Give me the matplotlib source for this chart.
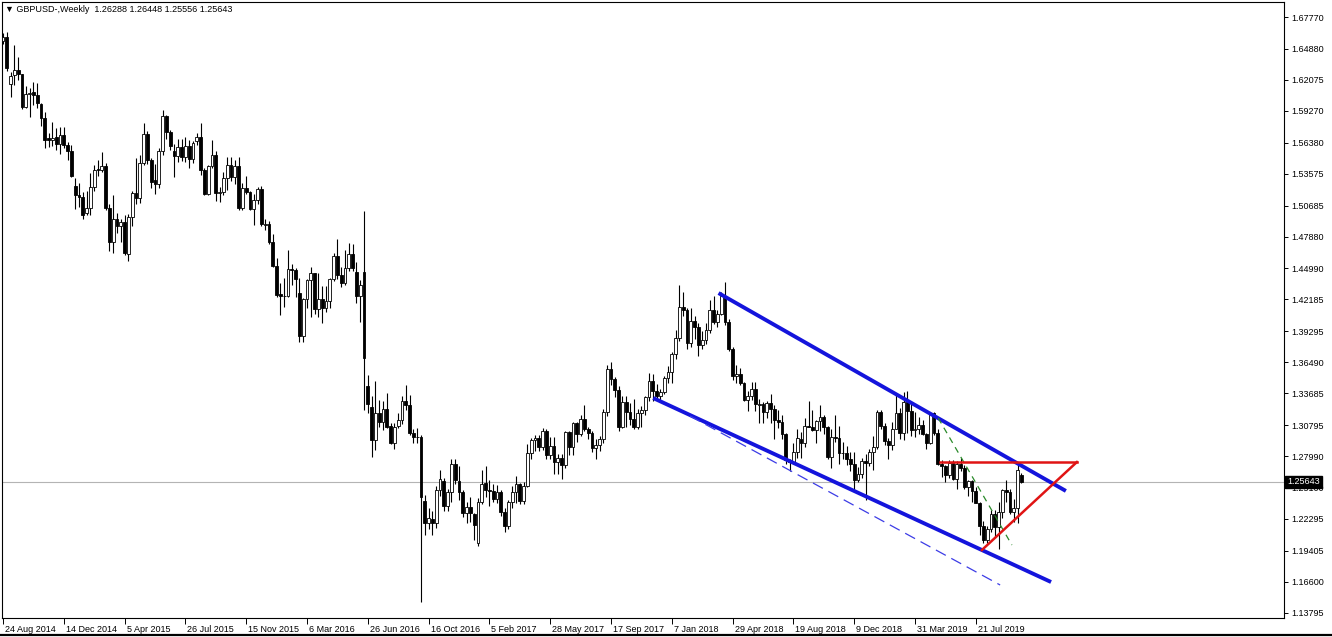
import matplotlib
matplotlib.use('Agg')
import matplotlib.pyplot as plt
import matplotlib.transforms as mtransforms
from matplotlib.lines import Line2D
import numpy as np

plt.rcParams['font.family'] = ['Liberation Sans', 'DejaVu Sans']

# GBPUSD weekly candles, first bar = week of 24 Aug 2014
opens = [
    1.6560, 1.6595, 1.6170, 1.6250, 1.6295, 1.6262, 1.5965, 1.6080, 1.6095, 1.6070,
    1.5990, 1.5860, 1.5680, 1.5660, 1.5690, 1.5630, 1.5710, 1.5615, 1.5560, 1.5250,
    1.5165, 1.5150, 1.5005, 1.5045, 1.5240, 1.5400, 1.5390, 1.5430, 1.5045, 1.4740,
    1.4950, 1.4885, 1.4920, 1.4630, 1.4965, 1.5180, 1.5135, 1.5450, 1.5720, 1.5480,
    1.5300, 1.5265, 1.5560, 1.5880, 1.5735, 1.5560, 1.5515, 1.5600, 1.5505, 1.5610,
    1.5490, 1.5650, 1.5690, 1.5390, 1.5170, 1.5430, 1.5530, 1.5180, 1.5190, 1.5315,
    1.5440, 1.5325, 1.5425, 1.5045, 1.5230, 1.5190, 1.5035, 1.5115, 1.5220, 1.4895,
    1.4905, 1.4735, 1.4525, 1.4265, 1.4250, 1.4245, 1.4495, 1.4485, 1.4275, 1.3890,
    1.4225, 1.4390, 1.4460, 1.4130, 1.4220, 1.4140, 1.4200, 1.4400, 1.4615, 1.4440,
    1.4370, 1.4500, 1.4630, 1.4470, 1.4245, 1.4470, 1.3430, 1.3245, 1.2945, 1.3190,
    1.3105, 1.3225, 1.3075, 1.2920, 1.3070, 1.3130, 1.3300, 1.3265, 1.3010, 1.2975,
    1.2970, 1.2390, 1.2190, 1.2230, 1.2190, 1.2490, 1.2570, 1.2345, 1.2475, 1.2730,
    1.2570, 1.2475, 1.2280, 1.2340, 1.2270, 1.2010, 1.2380, 1.2555, 1.2490, 1.2480,
    1.2410, 1.2470, 1.2295, 1.2165, 1.2385, 1.2475, 1.2545, 1.2395, 1.2530, 1.2825,
    1.2945, 1.2965, 1.2885, 1.3030, 1.2805, 1.2890, 1.2745, 1.2780, 1.2715, 1.3015,
    1.2885, 1.3095, 1.3000, 1.3135, 1.3040, 1.3010, 1.2875, 1.2895, 1.2950, 1.3200,
    1.3590, 1.3495, 1.3395, 1.3065, 1.3285, 1.3195, 1.3135, 1.3065, 1.3190, 1.3215,
    1.3330, 1.3475, 1.3390, 1.3340, 1.3380, 1.3510, 1.3565, 1.3720, 1.3865, 1.4150,
    1.4120, 1.3820, 1.4025, 1.3965, 1.3805, 1.3850, 1.3945, 1.4125, 1.4015, 1.4090,
    1.4245, 1.4010, 1.3770, 1.3525, 1.3545, 1.3465, 1.3310, 1.3340, 1.3410, 1.3265,
    1.3275, 1.3195, 1.3280, 1.3230, 1.3125, 1.3110, 1.2995, 1.2765, 1.2745, 1.2840,
    1.2955, 1.2920, 1.3070, 1.3065, 1.3035, 1.3120, 1.3150, 1.3060, 1.2790, 1.2970,
    1.2965, 1.2825, 1.2830, 1.2775, 1.2725, 1.2585, 1.2640, 1.2755, 1.2740, 1.2835,
    1.2880, 1.3195, 1.3075, 1.2940, 1.2900, 1.3045, 1.3190, 1.3010, 1.3290, 1.3210,
    1.3035, 1.3040, 1.3080, 1.3000, 1.2920, 1.3185, 1.3005, 1.2725, 1.2710, 1.2625,
    1.2735, 1.2590, 1.2730, 1.2695, 1.2520, 1.2575, 1.2480, 1.2375, 1.2165, 1.2035,
    1.2140, 1.2275, 1.2160, 1.2290, 1.2495, 1.2475, 1.2290, 1.2330, 1.26288,
]
highs = [
    1.6630, 1.6644, 1.6276, 1.6525, 1.6415, 1.6265, 1.6150, 1.6130, 1.6185, 1.6180,
    1.6000, 1.5915, 1.5730, 1.5825, 1.5770, 1.5785, 1.5785, 1.5645, 1.5620, 1.5316,
    1.5270, 1.5190, 1.5200, 1.5360, 1.5435, 1.5485, 1.5552, 1.5450, 1.5085, 1.5165,
    1.5000, 1.4950, 1.4985, 1.4990, 1.5200, 1.5500, 1.5525, 1.5815, 1.5740, 1.5500,
    1.5445, 1.5590, 1.5930, 1.5890, 1.5750, 1.5625, 1.5675, 1.5675, 1.5690, 1.5660,
    1.5650, 1.5730, 1.5820, 1.5410, 1.5440, 1.5660, 1.5565, 1.5240, 1.5375, 1.5510,
    1.5510, 1.5480, 1.5510, 1.5270, 1.5335, 1.5200, 1.5170, 1.5240, 1.5245, 1.4945,
    1.4925, 1.4810, 1.4590, 1.4365, 1.4415, 1.4670, 1.4540, 1.4500, 1.4410, 1.4230,
    1.4400, 1.4515, 1.4460, 1.4460, 1.4340, 1.4340, 1.4410, 1.4635, 1.4770, 1.4515,
    1.4665, 1.4730, 1.4720, 1.4560, 1.4395, 1.5015, 1.3535, 1.3340, 1.3480, 1.3310,
    1.3300, 1.3370, 1.3095, 1.3100, 1.3185, 1.3340, 1.3445, 1.3355, 1.3040, 1.3055,
    1.2990, 1.2445, 1.2330, 1.2300, 1.2530, 1.2675, 1.2600, 1.2500, 1.2775, 1.2775,
    1.2705, 1.2495, 1.2380, 1.2430, 1.2285, 1.2415, 1.2675, 1.2705, 1.2580, 1.2550,
    1.2540, 1.2490, 1.2325, 1.2400, 1.2525, 1.2615, 1.2555, 1.2560, 1.2905, 1.2965,
    1.2990, 1.2990, 1.3050, 1.3045, 1.2975, 1.2975, 1.2815, 1.2815, 1.3030, 1.3030,
    1.3110, 1.3110, 1.3175, 1.3265, 1.3060, 1.3030, 1.2955, 1.2980, 1.3225, 1.3620,
    1.3655, 1.3515, 1.3430, 1.3340, 1.3340, 1.3280, 1.3320, 1.3225, 1.3250, 1.3345,
    1.3550, 1.3540, 1.3450, 1.3410, 1.3525, 1.3615, 1.3745, 1.3945, 1.4345, 1.4285,
    1.4145, 1.4145, 1.4070, 1.4005, 1.3930, 1.4005, 1.4215, 1.4245, 1.4125, 1.4290,
    1.4377, 1.4040, 1.3790, 1.3620, 1.3600, 1.3470, 1.3385, 1.3470, 1.3470, 1.3315,
    1.3290, 1.3300, 1.3365, 1.3260, 1.3215, 1.3175, 1.3005, 1.2775, 1.2920, 1.3045,
    1.3015, 1.3145, 1.3300, 1.3215, 1.3130, 1.3260, 1.3175, 1.3075, 1.3045, 1.3175,
    1.3075, 1.2930, 1.2890, 1.2840, 1.2840, 1.2700, 1.2785, 1.2815, 1.2865, 1.2985,
    1.3215, 1.3215, 1.3095, 1.2965, 1.3110, 1.3350, 1.3235, 1.3380, 1.3385, 1.3275,
    1.3195, 1.3150, 1.3130, 1.3010, 1.3195, 1.3195, 1.3040, 1.2760, 1.2715, 1.2765,
    1.2765, 1.2750, 1.2785, 1.2715, 1.2580, 1.2580, 1.2520, 1.2385, 1.2210, 1.2165,
    1.2310, 1.2310, 1.2385, 1.2500, 1.2580, 1.2500, 1.2410, 1.2730, 1.26448,
]
lows = [
    1.6535, 1.6292, 1.6052, 1.6163, 1.6205, 1.5945, 1.5950, 1.5875, 1.5980, 1.5950,
    1.5790, 1.5590, 1.5595, 1.5610, 1.5572, 1.5540, 1.5590, 1.5480, 1.5330, 1.5035,
    1.5060, 1.4950, 1.4980, 1.4985, 1.5200, 1.5335, 1.5370, 1.5025, 1.4660, 1.4640,
    1.4820, 1.4740, 1.4620, 1.4565, 1.4880, 1.5085, 1.5090, 1.5440, 1.5445, 1.5230,
    1.5170, 1.5225, 1.5525, 1.5670, 1.5575, 1.5330, 1.5465, 1.5470, 1.5460, 1.5410,
    1.5455, 1.5620, 1.5345, 1.5160, 1.5160, 1.5410, 1.5110, 1.5105, 1.5165, 1.5210,
    1.5290, 1.5265, 1.5025, 1.5030, 1.5170, 1.5025, 1.4895, 1.5085, 1.4880, 1.4845,
    1.4720, 1.4510, 1.4240, 1.4080, 1.4150, 1.4240, 1.4350, 1.4240, 1.3835, 1.3835,
    1.4145, 1.4060, 1.4090, 1.4055, 1.4005, 1.4100, 1.4140, 1.4385, 1.4405, 1.4330,
    1.4350, 1.4480, 1.4480, 1.4185, 1.4015, 1.3220, 1.3185, 1.2795, 1.2855, 1.3060,
    1.3035, 1.3055, 1.2905, 1.2865, 1.3055, 1.3090, 1.3220, 1.2990, 1.2915, 1.2915,
    1.1480, 1.2085, 1.2135, 1.2080, 1.2150, 1.2435, 1.2300, 1.2300, 1.2385, 1.2550,
    1.2400, 1.2250, 1.2195, 1.2200, 1.2040, 1.1985, 1.2365, 1.2430, 1.2345, 1.2385,
    1.2370, 1.2260, 1.2110, 1.2140, 1.2330, 1.2375, 1.2365, 1.2365, 1.2515, 1.2775,
    1.2845, 1.2845, 1.2855, 1.2770, 1.2770, 1.2635, 1.2640, 1.2590, 1.2695, 1.2810,
    1.2810, 1.2930, 1.2985, 1.3025, 1.2955, 1.2840, 1.2770, 1.2845, 1.2920, 1.3165,
    1.3445, 1.3335, 1.3025, 1.3050, 1.3065, 1.3080, 1.3040, 1.3040, 1.3065, 1.3170,
    1.3300, 1.3300, 1.3300, 1.3305, 1.3365, 1.3460, 1.3460, 1.3675, 1.3840, 1.4065,
    1.3765, 1.3785, 1.3860, 1.3710, 1.3765, 1.3815, 1.3915, 1.4000, 1.3965, 1.4075,
    1.3985, 1.3750, 1.3485, 1.3460, 1.3445, 1.3300, 1.3205, 1.3310, 1.3205, 1.3100,
    1.3100, 1.3140, 1.3100, 1.2955, 1.3050, 1.2955, 1.2725, 1.2660, 1.2730, 1.2780,
    1.2785, 1.2885, 1.3060, 1.3030, 1.2920, 1.3030, 1.3000, 1.2775, 1.2695, 1.2925,
    1.2725, 1.2775, 1.2715, 1.2660, 1.2475, 1.2560, 1.2600, 1.2400, 1.2705, 1.2670,
    1.2865, 1.3040, 1.2900, 1.2775, 1.2855, 1.3040, 1.2955, 1.2945, 1.3005, 1.2980,
    1.2975, 1.3000, 1.2990, 1.2865, 1.2905, 1.2990, 1.2715, 1.2605, 1.2560, 1.2600,
    1.2585, 1.2505, 1.2660, 1.2500, 1.2440, 1.2380, 1.2370, 1.2080, 1.2015, 1.2015,
    1.2110, 1.2070, 1.1958, 1.2235, 1.2380, 1.2270, 1.2205, 1.2195, 1.25556,
]
closes = [
    1.6595, 1.6316, 1.6246, 1.6295, 1.6262, 1.5965, 1.6080, 1.6090, 1.6070, 1.5995,
    1.5865, 1.5665, 1.5660, 1.5685, 1.5630, 1.5710, 1.5615, 1.5560, 1.5335, 1.5165,
    1.5150, 1.4985, 1.5045, 1.5240, 1.5395, 1.5390, 1.5430, 1.5045, 1.4740, 1.4950,
    1.4880, 1.4920, 1.4635, 1.4965, 1.5180, 1.5135, 1.5450, 1.5720, 1.5480, 1.5285,
    1.5265, 1.5560, 1.5880, 1.5735, 1.5605, 1.5515, 1.5600, 1.5505, 1.5610, 1.5490,
    1.5635, 1.5690, 1.5390, 1.5170, 1.5430, 1.5530, 1.5180, 1.5190, 1.5315, 1.5440,
    1.5325, 1.5425, 1.5045, 1.5230, 1.5190, 1.5035, 1.5115, 1.5220, 1.4900, 1.4905,
    1.4735, 1.4525, 1.4260, 1.4250, 1.4245, 1.4495, 1.4485, 1.4400, 1.3890, 1.4225,
    1.4390, 1.4460, 1.4130, 1.4220, 1.4140, 1.4200, 1.4400, 1.4615, 1.4440, 1.4370,
    1.4500, 1.4630, 1.4500, 1.4245, 1.4350, 1.3685, 1.3275, 1.2945, 1.3185, 1.3105,
    1.3225, 1.3065, 1.2920, 1.3065, 1.3130, 1.3300, 1.3265, 1.3010, 1.2975, 1.2970,
    1.2430, 1.2190, 1.2235, 1.2190, 1.2490, 1.2595, 1.2345, 1.2475, 1.2730, 1.2585,
    1.2475, 1.2285, 1.2340, 1.2280, 1.2175, 1.2380, 1.2550, 1.2490, 1.2480, 1.2410,
    1.2475, 1.2295, 1.2165, 1.2385, 1.2475, 1.2545, 1.2390, 1.2530, 1.2825, 1.2945,
    1.2965, 1.2885, 1.3030, 1.2805, 1.2890, 1.2745, 1.2780, 1.2715, 1.3015, 1.2885,
    1.3095, 1.3000, 1.3135, 1.3040, 1.3010, 1.2875, 1.2895, 1.2950, 1.3200, 1.3590,
    1.3495, 1.3395, 1.3065, 1.3285, 1.3195, 1.3135, 1.3065, 1.3190, 1.3215, 1.3330,
    1.3475, 1.3390, 1.3340, 1.3380, 1.3510, 1.3565, 1.3720, 1.3865, 1.4150, 1.4120,
    1.3820, 1.4025, 1.3965, 1.3805, 1.3850, 1.3945, 1.4125, 1.4015, 1.4090, 1.4245,
    1.4010, 1.3770, 1.3525, 1.3545, 1.3465, 1.3310, 1.3340, 1.3410, 1.3270, 1.3275,
    1.3195, 1.3280, 1.3230, 1.3125, 1.3110, 1.3000, 1.2765, 1.2745, 1.2840, 1.2960,
    1.2920, 1.3070, 1.3065, 1.3035, 1.3120, 1.3150, 1.3060, 1.2790, 1.2970, 1.2965,
    1.2825, 1.2830, 1.2775, 1.2725, 1.2585, 1.2640, 1.2755, 1.2740, 1.2835, 1.2880,
    1.3195, 1.3075, 1.2940, 1.2900, 1.3045, 1.3190, 1.3010, 1.3290, 1.3210, 1.3035,
    1.3040, 1.3080, 1.3000, 1.2920, 1.3185, 1.3005, 1.2725, 1.2710, 1.2625, 1.2735,
    1.2590, 1.2730, 1.2695, 1.2520, 1.2575, 1.2480, 1.2375, 1.2165, 1.2035, 1.2140,
    1.2275, 1.2160, 1.2290, 1.2495, 1.2475, 1.2290, 1.2330, 1.2670, 1.25643,
]

# axis labels
price_ticks = [1.67770, 1.64880, 1.62075, 1.59270, 1.56380, 1.53575, 1.50685,
               1.47880, 1.44990, 1.42185, 1.39295, 1.36490, 1.33685, 1.30795,
               1.27990, 1.25100, 1.22295, 1.19405, 1.16600, 1.13795]
date_tick_bars = [0, 16, 32, 48, 64, 80, 96, 112, 128, 144, 160, 176, 192, 208, 224, 240, 256]
date_tick_labels = ['24 Aug 2014', '14 Dec 2014', '5 Apr 2015', '26 Jul 2015', '15 Nov 2015',
                    '6 Mar 2016', '26 Jun 2016', '16 Oct 2016', '5 Feb 2017', '28 May 2017',
                    '17 Sep 2017', '7 Jan 2018', '29 Apr 2018', '19 Aug 2018', '9 Dec 2018',
                    '31 Mar 2019', '21 Jul 2019']
current_price = 1.25643

# drawn objects (bar index, price)
channel_top_x, channel_top_y = [188.3, 279.7], [1.4276, 1.2483]
channel_bot_x, channel_bot_y = [171.1, 275.8], [1.3325, 1.1658]
parallel_x, parallel_y = [180.8, 262.4], [1.3162, 1.1631]
green_x, green_y = [246.1, 265.5], [1.3144, 1.1993]
red_flat_x, red_flat_y = [246.6, 282.6], [1.2745, 1.2745]
red_rise_x, red_rise_y = [257.6, 282.6], [1.1948, 1.2745]

o = np.array(opens)
h = np.array(highs)
l = np.array(lows)
c = np.array(closes)
x = np.arange(len(c))
up = c >= o

fig = plt.figure(figsize=(13.32, 6.37), dpi=100)
ax = fig.add_axes([2 / 1332, 19 / 637, 1282 / 1332, 616 / 637])

ax.axhline(current_price, color='#b4b4b4', lw=0.8, zorder=1)

ax.vlines(x, l, h, color='black', lw=0.8, zorder=2)
body_lo = np.minimum(o, c)
body_h = np.maximum(np.abs(c - o), 0.00005)
ax.bar(x[up], body_h[up], bottom=body_lo[up], width=0.7, color='white',
       edgecolor='black', linewidth=0.6, zorder=3)
ax.bar(x[~up], body_h[~up], bottom=body_lo[~up], width=0.7, color='black',
       edgecolor='black', linewidth=0.6, zorder=3)

blue = '#1414dc'
ax.plot(channel_top_x, channel_top_y, color=blue, lw=2.8, zorder=4, solid_capstyle='butt')
ax.plot(channel_bot_x, channel_bot_y, color=blue, lw=2.8, zorder=4, solid_capstyle='butt')
ax.plot(parallel_x, parallel_y, color='#3c3ce6', lw=0.9, dashes=(9, 5), zorder=4)
ax.plot(green_x, green_y, color='#2a8a2a', lw=0.9, dashes=(5, 4), zorder=4)
ax.plot(red_flat_x, red_flat_y, color='#e01414', lw=1.8, zorder=4)
ax.plot(red_rise_x, red_rise_y, color='#e01414', lw=1.8, zorder=4)

ax.set_xlim(-0.26, 337.1)
ax.set_ylim(1.1332, 1.6913)

ax.yaxis.tick_right()
ax.set_yticks(price_ticks)
ax.set_yticklabels([f'{v:.5f}' for v in price_ticks])
ax.tick_params(axis='y', direction='out', length=3, width=0.7, pad=2, labelsize=6.5)

ax.set_xticks(date_tick_bars)
ax.set_xticklabels(date_tick_labels)
ax.tick_params(axis='x', direction='out', length=4, width=0.7, pad=1, labelsize=6.5)
shift = mtransforms.ScaledTranslation(2 / 100, 0, fig.dpi_scale_trans)
for lab in ax.get_xticklabels():
    lab.set_horizontalalignment('left')
    lab.set_transform(lab.get_transform() + shift)

for sp in ax.spines.values():
    sp.set_linewidth(0.8)
    sp.set_color('black')

# current price marker on the price scale
ax.text(1.0025, current_price, f'{current_price:.5f}', transform=ax.get_yaxis_transform(),
        ha='left', va='center', fontsize=6.5, color='white', clip_on=False, zorder=10,
        bbox=dict(boxstyle='square,pad=0.2', facecolor='black', edgecolor='black'))

fig.text(5 / 1332, 1 - 10 / 637, '\u25bc GBPUSD-,Weekly  1.26288 1.26448 1.25556 1.25643',
         fontsize=6.5, va='center', ha='left', color='black')

fig.add_artist(Line2D([0, 1], [2 / 637, 2 / 637], color='black', lw=1.6))

fig.savefig('out.png', dpi=100)
